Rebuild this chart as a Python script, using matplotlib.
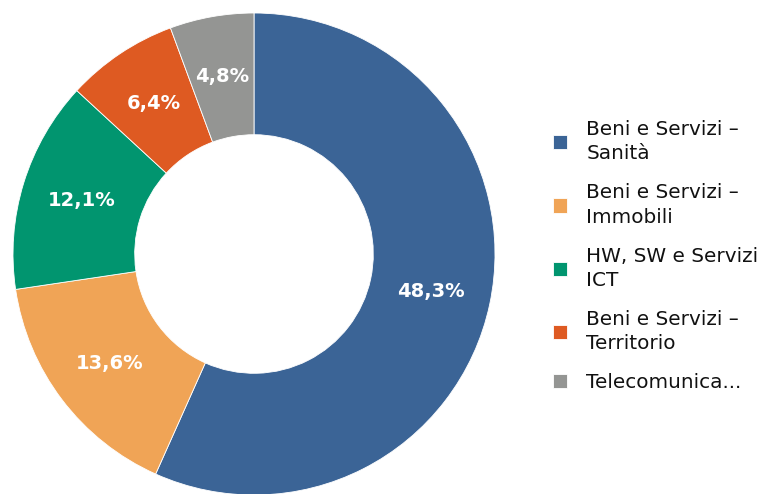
import matplotlib
matplotlib.use('Agg')
import matplotlib.pyplot as plt

# ====== data ======
labels = ['Beni e Servizi –\nSanità', 'Beni e Servizi –\nImmobili',
          'HW, SW e Servizi\nICT', 'Beni e Servizi –\nTerritorio',
          'Telecomunica...']
values = [48.3, 13.6, 12.1, 6.4, 4.8]
colors = ['#3B6496', '#F0A456', '#01956F', '#DE5A22', '#949593']

fig = plt.figure(figsize=(7.64, 4.94), dpi=100)
# donut centre ~ (254, 254) px, outer radius ~ 241 px
r_px = 241
ax = fig.add_axes([(254 - r_px) / 764, (494 - 254 - r_px) / 494,
                   2 * r_px / 764, 2 * r_px / 494])

pct_txt = iter(['{:.1f}%'.format(v).replace('.', ',') for v in values])
wedges, texts, autotexts = ax.pie(
    values, colors=colors, startangle=90, counterclock=False,
    radius=1.0, autopct=lambda p: next(pct_txt), pctdistance=0.75,
    wedgeprops=dict(width=0.505, edgecolor='white', linewidth=0.6),
    textprops=dict(color='white', fontsize=14, fontweight='bold'))
ax.set_xlim(-1, 1)
ax.set_ylim(-1, 1)
ax.set_aspect('equal')

leg = fig.legend(wedges, labels, loc='center left',
                 bbox_to_anchor=(553 / 764, 1 - 256 / 494),
                 frameon=False, borderpad=0, borderaxespad=0,
                 fontsize=14.4, handlelength=0.72, handleheight=0.72,
                 handletextpad=0.95, labelspacing=1.0)
for t in leg.get_texts():
    t.set_color('#111111')
    t.set_linespacing(1.35)

fig.savefig('out.png', dpi=100)
